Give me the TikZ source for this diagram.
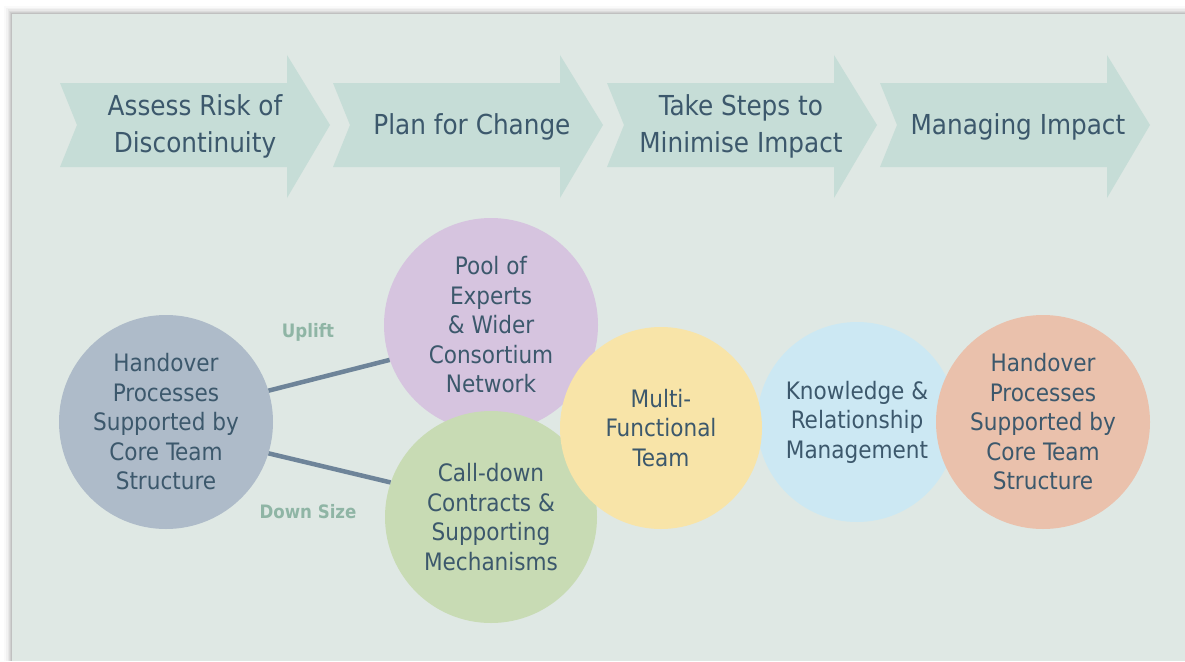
\documentclass[tikz,border=0pt]{standalone}
\usepackage{fontspec}
\setmainfont{DejaVu Sans Condensed}
\begin{document}
\definecolor{pagebg}{RGB}{255,255,255}
\definecolor{panelbg}{RGB}{223,232,228}
\definecolor{arrowfill}{RGB}{198,221,215}
\definecolor{inktext}{RGB}{60,88,108}
\definecolor{linkcol}{RGB}{110,132,153}
\definecolor{labelcol}{RGB}{143,181,165}
\definecolor{cslate}{RGB}{174,187,201}
\definecolor{cpurple}{RGB}{214,196,223}
\definecolor{cgreen}{RGB}{200,219,180}
\definecolor{cyellow}{RGB}{248,228,168}
\definecolor{cblue}{RGB}{204,232,243}
\definecolor{csalmon}{RGB}{234,193,172}
\begin{tikzpicture}[x=1pt,y=-1pt,
  steparrow/.pic={\fill[arrowfill] (0,83) -- (227,83) -- (227,55) -- (270,125)
      -- (227,198) -- (227,167) -- (0,167) -- (17,125) -- cycle;},
  steptext/.style={text=inktext,align=center,inner sep=0pt,
      font=\fontsize{27.5}{37}\selectfont},
  bubble/.style={circle,inner sep=0pt,align=center,text=inktext,
      font=\fontsize{24}{29.5}\selectfont},
  link/.style={draw=linkcol,line width=4.5pt},
  linklabel/.style={text=labelcol,font=\bfseries\fontsize{18.5}{22}\selectfont}]
\useasboundingbox (0,0) rectangle (1185,661);
\fill[pagebg] (0,0) rectangle (1185,661);
% soft shadow along the top and left edges of the panel
\foreach \d/\o in {8/0.02,6/0.03,4.5/0.04,3/0.05,2/0.06,1/0.07}
  \fill[black,opacity=\o] (12-\d,14-\d) rectangle (1185,661);
\fill[panelbg] (12,14) rectangle (1185,661);

% process steps
\pic at (60,0) {steparrow};
\pic at (333,0) {steparrow};
\pic at (607,0) {steparrow};
\pic at (880,0) {steparrow};
\node[steptext] (s1) at (195,126) {Assess Risk of\\Discontinuity};
\node[steptext] (s2) at (472,127) {Plan for Change};
\node[steptext] (s3) at (741,126) {Take Steps to\\Minimise Impact};
\node[steptext] (s4) at (1018,127) {Managing Impact};

% bubbles
\node[bubble,fill=cblue,minimum size=200pt] (krm) at (857,422)
  {Knowledge \&\\Relationship\\Management};
\node[bubble,fill=cpurple,minimum size=214pt] (pool) at (491,325)
  {Pool of\\Experts\\\& Wider\\Consortium\\Network};
\node[bubble,fill=cgreen,minimum size=212pt] (calldown) at (491,517)
  {Call-down\\Contracts \&\\Supporting\\Mechanisms};
\node[bubble,fill=cyellow,minimum size=202pt] (mft) at (661,428)
  {Multi-\\Functional\\Team};
\node[bubble,fill=csalmon,minimum size=214pt] (hout) at (1043,422)
  {Handover\\Processes\\Supported by\\Core Team\\Structure};
\node[bubble,fill=cslate,minimum size=214pt] (hin) at (166,422)
  {Handover\\Processes\\Supported by\\Core Team\\Structure};

% connectors
\draw[link] (hin.17) -- (pool.199);
\draw[link] (hin.-17) -- (calldown.161);
\node[linklabel] (up) at (308,332) {Uplift};
\node[linklabel] (down) at (308,512) {Down Size};
\end{tikzpicture}
\end{document}
